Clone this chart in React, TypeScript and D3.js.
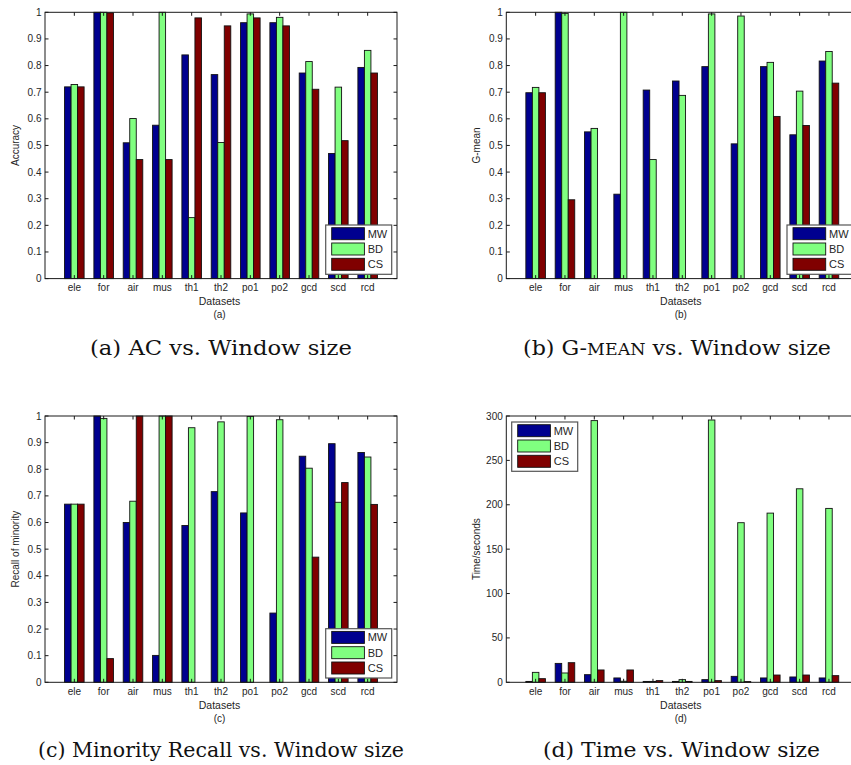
import React from "react";
import * as d3 from "d3";

// Dataset names along the x axis
const datasets = ["ele", "for", "air", "mus", "th1", "th2", "po1", "po2", "gcd", "scd", "rcd"];
const seriesNames = ["MW", "BD", "CS"];
const seriesColors = ["#00008f", "#80ff80", "#800000"];

// (a) accuracy
const accMW = [0.72, 1.0, 0.51, 0.576, 0.84, 0.766, 0.961, 0.961, 0.772, 0.47, 0.793];
const accBD = [0.729, 1.0, 0.601, 1.0, 0.229, 0.511, 0.994, 0.981, 0.815, 0.719, 0.857];
const accCS = [0.72, 0.998, 0.447, 0.447, 0.979, 0.949, 0.979, 0.949, 0.711, 0.518, 0.772];

// (b) G-mean
const gmMW = [0.698, 1.0, 0.551, 0.317, 0.708, 0.742, 0.796, 0.506, 0.796, 0.54, 0.817];
const gmBD = [0.718, 0.996, 0.564, 1.0, 0.447, 0.688, 0.994, 0.986, 0.812, 0.704, 0.853];
const gmCS = [0.698, 0.296, 0, 0, 0, 0, 0, 0, 0.609, 0.575, 0.734];

// (c) recall of the minority class
const recMW = [0.669, 1.0, 0.6, 0.101, 0.589, 0.716, 0.636, 0.26, 0.849, 0.896, 0.863];
const recBD = [0.669, 0.991, 0.68, 1.0, 0.956, 0.978, 0.998, 0.986, 0.804, 0.676, 0.846];
const recCS = [0.669, 0.089, 1.0, 1.0, 0, 0, 0, 0, 0.47, 0.75, 0.668];

// (d) running time in seconds
const timeMW = [1.0, 21.3, 8.6, 4.9, 1.0, 1.0, 3.0, 6.7, 4.9, 6.0, 4.9];
const timeBD = [11.2, 10.5, 294.8, 1.2, 1.0, 3.0, 295.5, 179.8, 190.6, 218.0, 195.9];
const timeCS = [4.1, 22.1, 13.9, 13.9, 1.9, 1.0, 1.9, 0.8, 8.2, 8.2, 7.5];

const unitTicks = [0, 0.1, 0.2, 0.3, 0.4, 0.5, 0.6, 0.7, 0.8, 0.9, 1];
const timeTicks = [0, 50, 100, 150, 200, 250, 300];

const W = 851;
const H = 765;
const PLOT_W = 352;
const PLOT_H = 266.3;
const AX = "#1a1a1a";
const TXT = "#262626";
const SANS = "Arial, 'Liberation Sans', Helvetica, sans-serif";

type PanelProps = {
  left: number;
  top: number;
  series: number[][];
  yMax: number;
  ticks: number[];
  yLabel: string;
  sub: string;
  legend: "br" | "tl";
};

function Panel({ left, top, series, yMax, ticks, yLabel, sub, legend }: PanelProps) {
  const right = left + PLOT_W;
  const bottom = top + PLOT_H;
  const x = d3.scaleLinear().domain([0, datasets.length + 1]).range([left, right]);
  const y = d3.scaleLinear().domain([0, yMax]).range([bottom, top]);
  const inner = d3.scaleBand<string>().domain(seriesNames).range([-1 / 3, 1 / 3]).padding(0);
  const bw = x(inner.bandwidth()) - x(0);
  const tickLen = 3.5;
  const fmt = (v: number) => String(+v.toFixed(2));

  const lgW = 66;
  const lgH = 49.3;
  const lgX = legend === "br" ? right - 5.3 - lgW : left + 5.4;
  const lgY = legend === "br" ? bottom - 4.3 - lgH : top + 6;

  return (
    <g>
      {/* bars */}
      {series.map((vals, si) =>
        vals.map((v, ci) => {
          const x0 = x(ci + 1 + (inner(seriesNames[si]) as number));
          return (
            <rect
              key={`${si}-${ci}`}
              x={x0}
              y={y(v)}
              width={bw}
              height={Math.max(0, y(0) - y(v))}
              fill={seriesColors[si]}
              stroke="#111"
              strokeWidth={0.9}
            />
          );
        })
      )}
      {/* axes box */}
      <rect x={left} y={top} width={PLOT_W} height={PLOT_H} fill="none" stroke={AX} strokeWidth={1} />
      {/* y ticks */}
      {ticks.map((t) => (
        <g key={`yt${t}`}>
          <line x1={left} x2={left + tickLen} y1={y(t)} y2={y(t)} stroke={AX} />
          <line x1={right} x2={right - tickLen} y1={y(t)} y2={y(t)} stroke={AX} />
          <text
            x={left - 3.5}
            y={y(t)}
            dy="0.35em"
            textAnchor="end"
            fontSize={10}
            fontFamily={SANS}
            fill={TXT}
          >
            {fmt(t)}
          </text>
        </g>
      ))}
      {/* x ticks */}
      {datasets.map((d, i) => (
        <g key={`xt${d}`}>
          <line x1={x(i + 1)} x2={x(i + 1)} y1={bottom} y2={bottom - tickLen} stroke={AX} />
          <line x1={x(i + 1)} x2={x(i + 1)} y1={top} y2={top + tickLen} stroke={AX} />
          <text x={x(i + 1)} y={bottom + 12.7} textAnchor="middle" fontSize={10} fontFamily={SANS} fill={TXT}>
            {d}
          </text>
        </g>
      ))}
      <text x={(left + right) / 2 - 1.5} y={bottom + 26.5} textAnchor="middle" fontSize={10.5} fontFamily={SANS} fill={TXT}>
        Datasets
      </text>
      <text x={(left + right) / 2 - 1.5} y={bottom + 39.5} textAnchor="middle" fontSize={10} fontFamily={SANS} fill={TXT}>
        {sub}
      </text>
      <text
        transform={`translate(${left - 30},${(top + bottom) / 2}) rotate(-90)`}
        dy="0.35em"
        textAnchor="middle"
        fontSize={10}
        fontFamily={SANS}
        fill={TXT}
      >
        {yLabel}
      </text>
      {/* legend */}
      <g>
        <rect x={lgX} y={lgY} width={lgW} height={lgH} fill="#fff" stroke="#555" strokeWidth={1.2} />
        {seriesNames.map((s, i) => (
          <g key={s}>
            <rect
              x={lgX + 6}
              y={lgY + 2.7 + i * 15.3}
              width={32.7}
              height={12}
              fill={seriesColors[i]}
              stroke="#111"
              strokeWidth={0.9}
            />
            <text
              x={lgX + 42}
              y={lgY + 2.7 + i * 15.3 + 6}
              dy="0.36em"
              fontSize={11}
              fontFamily={SANS}
              fill={TXT}
            >
              {s}
            </text>
          </g>
        ))}
      </g>
    </g>
  );
}

const CAP_FONT = "'DejaVu Serif', 'Liberation Serif', serif";

export default function App() {
  return (
    <div style={{ position: "absolute", left: 0, top: 0, width: W, height: H, background: "#fff" }}>
      <svg width={W} height={H} viewBox={`0 0 ${W} ${H}`} style={{ display: "block" }}>
        <rect width={W} height={H} fill="#fff" />
        <Panel left={45} top={12.3} series={[accMW, accBD, accCS]} yMax={1} ticks={unitTicks} yLabel="Accuracy" sub="(a)" legend="br" />
        <Panel left={506.3} top={12.3} series={[gmMW, gmBD, gmCS]} yMax={1} ticks={unitTicks} yLabel="G-mean" sub="(b)" legend="br" />
        <Panel left={45} top={416} series={[recMW, recBD, recCS]} yMax={1} ticks={unitTicks} yLabel="Recall of minority" sub="(c)" legend="br" />
        <Panel left={506.3} top={416} series={[timeMW, timeBD, timeCS]} yMax={300} ticks={timeTicks} yLabel="Time/seconds" sub="(d)" legend="tl" />

        {/* sub-figure captions */}
        <g fontFamily={CAP_FONT} fontSize={21} fill="#111">
          <text x={90} y={355} textLength={262} lengthAdjust="spacingAndGlyphs">
            (a) AC vs. Window size
          </text>
          <text x={523} y={355} textLength={308} lengthAdjust="spacingAndGlyphs">
            (b) G-<tspan fontSize={16.5}>MEAN</tspan> vs. Window size
          </text>
          <text x={38} y={757} textLength={366} lengthAdjust="spacingAndGlyphs">
            (c) Minority Recall vs. Window size
          </text>
          <text x={543} y={757} textLength={277} lengthAdjust="spacingAndGlyphs">
            (d) Time vs. Window size
          </text>
        </g>
      </svg>
    </div>
  );
}
